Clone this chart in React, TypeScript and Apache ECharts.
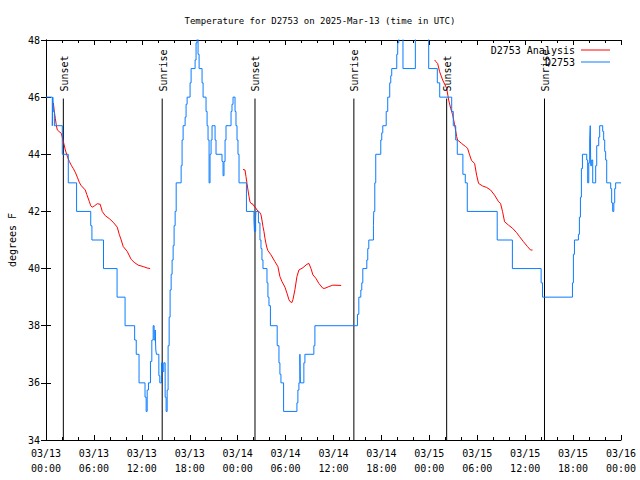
import React, { useEffect, useRef } from "react";
import * as echarts from "echarts";

// hours since 2025-03-13 00:00 UTC
const xTickLabels = [
  "03/13\n00:00", "03/13\n06:00", "03/13\n12:00", "03/13\n18:00",
  "03/14\n00:00", "03/14\n06:00", "03/14\n12:00", "03/14\n18:00",
  "03/15\n00:00", "03/15\n06:00", "03/15\n12:00", "03/15\n18:00",
  "03/16\n00:00",
];

const sunsetHours = [2.17, 26.17, 50.17];
const sunriseHours = [14.55, 38.55, 62.42];
const eventLineRange = [34, 45.95];

// D2753 observations (value becomes T at hour h)
const stationTemps: number[][] = [
  [0, 46], [0.79, 45], [0.85, 46], [0.92, 45.5], [1.05, 45], [2.04, 44], [2.79, 43], [3.83, 42],
  [5.6, 41.5], [5.75, 41], [7.2, 40], [8.9, 39], [9.9, 38], [11.1, 37.5], [11.3, 37], [11.65, 36],
  [12.4, 35.5], [12.54, 35], [12.67, 35.75], [12.83, 36], [13.08, 36.75], [13.25, 37.5], [13.42, 38],
  [13.54, 37.5], [13.67, 37.85], [13.75, 37.15], [13.83, 37], [14.13, 36.25], [14.25, 36],
  [14.46, 36.7], [14.6, 36.4], [14.75, 36.7], [14.92, 35.5], [15.04, 35], [15.17, 35.75],
  [15.29, 37.3], [15.42, 38.3], [15.54, 39.25], [15.67, 39.8], [15.79, 40.3], [15.92, 40.8],
  [16.04, 41.5], [16.17, 42], [16.3, 43], [16.92, 43.6], [17.04, 44.5], [17.17, 45], [17.42, 45.3],
  [17.54, 45.75], [17.67, 46], [18.04, 46.5], [18.17, 47], [18.67, 47.3], [18.79, 47.9], [18.92, 49],
  [19.04, 47.5], [19.17, 47], [19.54, 46.5], [19.67, 46], [20.04, 45.5], [20.17, 45], [20.29, 44.5],
  [20.42, 43], [20.54, 44], [20.67, 44.5], [20.79, 45], [21.17, 44.5], [21.29, 44], [22.04, 43.75],
  [22.17, 43.25], [22.29, 43.75], [22.42, 44.5], [22.54, 45], [23.17, 45.5], [23.29, 45.75],
  [23.42, 46], [23.67, 45.5], [23.79, 45], [23.92, 44.5], [24.04, 44], [24.17, 43], [25.1, 42],
  [26.04, 41.7], [26.1, 41.3], [26.25, 41.8], [26.29, 42], [26.6, 41.6], [26.79, 41], [26.92, 40.7],
  [27.04, 40.3], [27.17, 40], [27.67, 39.5], [27.79, 39], [27.92, 38.7], [28.1, 38], [28.95, 37.3],
  [29.17, 36.7], [29.29, 36.3], [29.42, 36], [29.75, 35], [31.42, 35.3], [31.54, 35.75], [31.67, 36],
  [31.79, 37], [31.85, 36], [32.29, 36.7], [32.42, 37], [33.54, 37.3], [33.67, 38], [39.0, 38.4],
  [39.17, 39], [39.42, 39.25], [39.54, 39.5], [39.67, 40], [40.17, 40.3], [40.29, 40.7], [40.42, 41],
  [41.0, 41.5], [41.04, 42], [41.17, 43], [41.29, 44], [41.92, 44.5], [42.04, 44.75], [42.17, 45],
  [42.6, 45.5], [42.79, 46], [43.04, 46.5], [43.17, 46.75], [43.29, 47], [43.92, 47.5], [44.04, 47.9],
  [44.17, 49], [44.7, 47], [46.25, 49], [47.92, 47], [49.0, 46.5], [49.3, 46], [50.8, 45.5],
  [51.0, 45], [51.3, 44.5], [51.5, 44], [52.2, 43.3], [52.5, 43], [52.75, 42], [56.5, 41], [58.4, 40],
  [62.0, 39.5], [62.17, 39], [65.92, 39.5], [66.04, 40.5], [66.17, 41], [66.67, 41.2], [66.79, 41.8],
  [66.92, 42.5], [67.04, 43.5], [67.17, 44], [67.71, 43.8], [67.83, 43], [67.96, 43.7], [68.08, 44.5],
  [68.15, 45], [68.21, 43.6], [68.33, 43.8], [68.46, 43], [68.83, 43.6], [68.96, 44.3], [69.21, 44.6],
  [69.33, 45], [69.71, 44.8], [69.83, 44.5], [69.96, 44.1], [70.08, 43.8], [70.21, 43], [70.71, 42.8],
  [70.83, 42.3], [70.96, 42], [71.1, 42.3], [71.21, 42.8], [71.33, 43], [72, 43],
];

// D2753 Analysis, three runs
const analysisRun1: number[][] = [
  [0.92, 45.8], [1.04, 45.5], [1.17, 45.25], [1.3, 45.0], [1.42, 44.85], [1.92, 44.73], [2.17, 44.45],
  [2.42, 44.15], [2.7, 43.9], [2.92, 43.75], [3.2, 43.6], [3.42, 43.5], [3.7, 43.35], [3.92, 43.2],
  [4.2, 43.0], [4.42, 42.9], [4.92, 42.75], [5.1, 42.6], [5.42, 42.35], [5.6, 42.2], [5.79, 42.15],
  [6.1, 42.2], [6.42, 42.27], [6.79, 42.25], [7.04, 42.0], [7.42, 41.85], [7.92, 41.75], [8.42, 41.62],
  [8.92, 41.45], [9.17, 41.2], [9.42, 41.0], [9.67, 40.77], [10.17, 40.6], [10.67, 40.32],
  [11.04, 40.22], [11.54, 40.12], [12.17, 40.07], [12.67, 40.02], [13.04, 40.0],
];
const analysisRun2: number[][] = [
  [24.67, 43.47], [24.92, 43.45], [25.04, 43.22], [25.17, 42.98], [25.29, 42.75], [25.42, 42.52],
  [25.54, 42.34], [25.67, 42.28], [25.92, 42.25], [26.04, 42.19], [26.29, 42.11], [26.42, 42.05],
  [26.67, 41.99], [26.79, 41.96], [26.92, 41.88], [27.04, 41.7], [27.17, 41.47], [27.29, 41.3],
  [27.42, 41.06], [27.54, 40.88], [27.67, 40.72], [27.79, 40.63], [28.17, 40.48], [28.67, 40.24],
  [29.04, 40.07], [29.29, 39.72], [29.54, 39.55], [29.92, 39.35], [30.17, 39.14], [30.42, 38.91],
  [30.54, 38.85], [30.79, 38.81], [30.92, 38.91], [31.17, 39.26], [31.42, 39.72], [31.67, 39.95],
  [32.17, 40.03], [32.67, 40.15], [32.92, 40.18], [33.17, 40.01], [33.42, 39.78], [33.79, 39.66],
  [34.17, 39.48], [34.67, 39.31], [34.92, 39.31], [35.42, 39.37], [35.92, 39.42], [36.96, 39.41],
];
const analysisRun3: number[][] = [
  [48.67, 47.3], [48.8, 47.25], [49.04, 47.18], [49.29, 46.89], [49.67, 46.6], [50.17, 46.31],
  [50.42, 45.9], [50.67, 45.61], [50.92, 45.38], [51.17, 45.03], [51.42, 44.62], [51.54, 44.5],
  [52.04, 44.38], [52.54, 44.27], [52.79, 44.21], [53.04, 43.98], [53.29, 43.78], [53.67, 43.68],
  [53.92, 43.27], [54.17, 42.98], [54.67, 42.89], [55.17, 42.84], [55.67, 42.75], [56.17, 42.57],
  [56.67, 42.34], [56.92, 42.28], [57.17, 41.99], [57.42, 41.64], [57.92, 41.52], [58.42, 41.41],
  [58.92, 41.26], [59.29, 41.12], [59.79, 40.94], [60.29, 40.77], [60.67, 40.65], [60.92, 40.65],
];

const legendNames = ["D2753 Analysis", "D2753"];
const FONT = '"DejaVu Sans Mono", "Liberation Mono", monospace';
const RED = "#ff0000";
const BLUE = "#0a7cff";

export default function App() {
  const ref = useRef<HTMLDivElement>(null);
  useEffect(() => {
    if (!ref.current) return;
    const chart = echarts.init(ref.current, null, { renderer: "svg" });
    const axisCommon = {
      type: "value" as const,
      axisLine: { show: true, lineStyle: { color: "#000", width: 1 } },
      splitLine: { show: false },
    };
    const events = [
      ...sunsetHours.map((h) => ({ h, label: "Sunset" })),
      ...sunriseHours.map((h) => ({ h, label: "Sunrise" })),
    ];
    const analysisSeries = [analysisRun1, analysisRun2, analysisRun3].map((run) => ({
      name: legendNames[0],
      type: "line",
      data: run,
      showSymbol: false,
      symbol: "none",
      itemStyle: { color: RED },
      lineStyle: { color: RED, width: 1 },
      silent: true,
      z: 3,
    }));
    chart.setOption({
      animation: false,
      backgroundColor: "#fff",
      title: {
        text: "Temperature for D2753 on 2025-Mar-13 (time in UTC)",
        left: "center",
        top: 11,
        textStyle: { fontFamily: FONT, fontSize: 9, fontWeight: "normal", color: "#000" },
      },
      legend: {
        data: legendNames,
        orient: "vertical",
        align: "right",
        right: 30,
        top: 44,
        padding: 0,
        itemGap: 0,
        itemWidth: 29,
        itemHeight: 1,
        icon: "rect",
        selectedMode: false,
        textStyle: { fontFamily: FONT, fontSize: 10, color: "#000", lineHeight: 12, padding: [0, 1, 0, 0] },
      },
      grid: { left: 46, right: 19, top: 40, bottom: 40, containLabel: false, outerBoundsMode: "none" },
      xAxis: [
        {
          ...axisCommon,
          position: "bottom",
          min: 0,
          max: 72,
          interval: 6,
          axisTick: { show: true, inside: true, length: 5, lineStyle: { color: "#000" } },
          minorTick: { show: true, splitNumber: 3, length: 3, lineStyle: { color: "#000" } },
          axisLabel: {
            show: true,
            margin: 6,
            fontFamily: FONT,
            fontSize: 10,
            lineHeight: 15,
            color: "#000",
            showMaxLabel: true,
            showMinLabel: true,
            hideOverlap: false,
            formatter: (v: number) => xTickLabels[Math.round(v / 6)] ?? "",
          },
        },
        {
          ...axisCommon,
          position: "top",
          min: 0,
          max: 72,
          interval: 6,
          axisTick: { show: true, inside: true, length: 5, lineStyle: { color: "#000" } },
          minorTick: { show: true, splitNumber: 3, length: 3, lineStyle: { color: "#000" } },
          axisLabel: { show: false },
        },
      ],
      yAxis: [
        {
          ...axisCommon,
          position: "left",
          min: 34,
          max: 48,
          interval: 2,
          name: "degrees F",
          nameLocation: "middle",
          nameGap: 29,
          nameRotate: 90,
          nameTextStyle: { fontFamily: FONT, fontSize: 10, color: "#000" },
          axisTick: { show: true, inside: true, length: 5, lineStyle: { color: "#000" } },
          axisLabel: { show: true, margin: 6, fontFamily: FONT, fontSize: 10, color: "#000" },
        },
        {
          ...axisCommon,
          position: "right",
          min: 34,
          max: 48,
          interval: 2,
          axisTick: { show: true, inside: true, length: 5, lineStyle: { color: "#000" } },
          axisLabel: { show: false },
        },
      ],
      series: [
        ...events.map((e) => ({
          name: e.label,
          type: "line",
          data: [[e.h, eventLineRange[0]], [e.h, eventLineRange[1]]],
          showSymbol: false,
          symbol: "none",
          itemStyle: { color: "#000" },
          lineStyle: { color: "#000", width: 1 },
          silent: true,
          z: 2,
        })),
        ...analysisSeries,
        {
          name: legendNames[1],
          type: "line",
          step: "end",
          data: stationTemps,
          showSymbol: false,
          symbol: "none",
          itemStyle: { color: BLUE },
          lineStyle: { color: BLUE, width: 1 },
          silent: true,
          clip: true,
          z: 4,
        },
      ],
    });

    const labelGraphics = events.map((e, i) => {
      const p = chart.convertToPixel({ xAxisIndex: 0, yAxisIndex: 0 }, [e.h, eventLineRange[1]]) as number[];
      return {
        id: "evlabel" + i,
        type: "text",
        x: p[0] + 1,
        y: p[1] - 7,
        rotation: Math.PI / 2,
        z: 10,
        style: {
          text: e.label,
          fill: "#000",
          font: `10px ${FONT}`,
          align: "left",
          verticalAlign: "middle",
        },
      };
    });
    chart.setOption({ graphic: { elements: labelGraphics } });

    return () => chart.dispose();
  }, []);
  return (
    <div
      ref={ref}
      style={{ position: "fixed", left: 0, top: 0, width: 640, height: 480, background: "#fff" }}
    />
  );
}
